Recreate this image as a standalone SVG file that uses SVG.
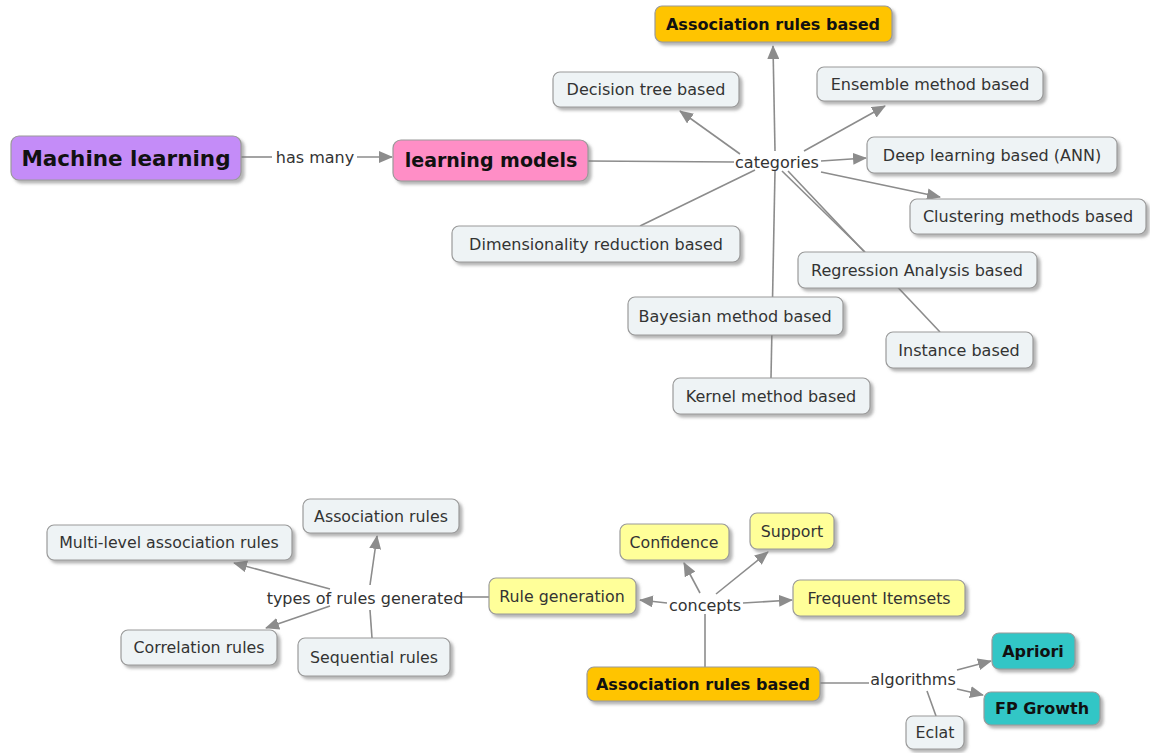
<svg xmlns="http://www.w3.org/2000/svg" width="1150" height="753" viewBox="0 0 1150 753">
  <style>
    .node rect { stroke: #9a9a9a; stroke-width: 1.2; filter: url(#shadow); }
    .plain rect { fill: #eef3f5; }
    .yellow rect { fill: #ffff99; }
    .orange rect { fill: #ffc400; }
    .teal rect { fill: #33c6c6; }
    .node text { font-family: "DejaVu Sans", Verdana, sans-serif; fill: #333; text-anchor: middle; dominant-baseline: central; }
    .top text { font-size: 16px; }
    .bot text { font-size: 15.8px; }
    .bold text { font-weight: bold; fill: #111; font-size: 16px; }
    .lbl { font-family: "DejaVu Sans", Verdana, sans-serif; font-size: 16px; fill: #333; text-anchor: middle; dominant-baseline: central; }
    #connectors line { stroke: #8c8c8c; stroke-width: 1.6; fill: none; }
    #connectors line.arr { marker-end: url(#arrow); }
  </style>
  <defs>
    <filter id="shadow" x="-10%" y="-20%" width="130%" height="160%">
      <feDropShadow dx="3" dy="3" stdDeviation="1.5" flood-color="#777" flood-opacity="0.55"/>
    </filter>
    <marker id="arrow" markerUnits="userSpaceOnUse" markerWidth="14" markerHeight="12" refX="13" refY="6" orient="auto">
      <path d="M0,0 L14,6 L0,12 Z" fill="#8c8c8c"/>
    </marker>
  </defs>

  <rect width="1150" height="753" fill="#ffffff"/>

  <g id="connectors">
    <!-- upper map -->
    <line x1="241" y1="157" x2="272" y2="157"/>
    <line class="arr" x1="357" y1="157" x2="392" y2="157"/>
    <line x1="588" y1="161" x2="734" y2="162"/>
    <line class="arr" x1="775" y1="151" x2="773" y2="46"/>
    <line class="arr" x1="740" y1="154" x2="680" y2="111"/>
    <line class="arr" x1="804" y1="151" x2="885" y2="106"/>
    <line class="arr" x1="821" y1="161" x2="866" y2="158"/>
    <line class="arr" x1="821" y1="172" x2="940" y2="197"/>
    <line x1="755" y1="170" x2="640" y2="226"/>
    <line x1="775" y1="171" x2="771" y2="378"/>
    <line x1="782" y1="171" x2="865" y2="252"/>
    <line x1="788" y1="171" x2="940" y2="332"/>

    <!-- lower map -->
    <line x1="462" y1="597" x2="489" y2="597"/>
    <line class="arr" x1="370" y1="585" x2="377" y2="536"/>
    <line class="arr" x1="330" y1="589" x2="234" y2="563"/>
    <line class="arr" x1="330" y1="606" x2="266" y2="628"/>
    <line x1="370" y1="610" x2="372" y2="638"/>
    <line class="arr" x1="667" y1="603" x2="640" y2="600"/>
    <line class="arr" x1="700" y1="593" x2="684" y2="563"/>
    <line class="arr" x1="716" y1="594" x2="768" y2="552"/>
    <line class="arr" x1="743" y1="603" x2="792" y2="600"/>
    <line x1="705" y1="614" x2="705" y2="667"/>
    <line x1="820" y1="683" x2="869" y2="683"/>
    <line class="arr" x1="957" y1="670" x2="991" y2="661"/>
    <line class="arr" x1="957" y1="689" x2="983" y2="695"/>
    <line x1="927" y1="691" x2="936" y2="716"/>
  </g>

  <!-- link phrases -->
  <g id="labels">
    <text class="lbl" x="315" y="157">has many</text>
    <text class="lbl" x="777" y="162">categories</text>
    <text class="lbl" x="365" y="598">types of rules generated</text>
    <text class="lbl" x="705" y="605">concepts</text>
    <text class="lbl" x="913" y="679">algorithms</text>
  </g>

  <!-- upper map nodes -->
  <g id="machine-learning" class="node bold">
    <rect x="11" y="136" width="230" height="44" rx="8" fill="#c48cf8"/>
    <text x="126" y="158" style="font-size:21.5px">Machine learning</text>
  </g>
  <g id="learning-models" class="node bold">
    <rect x="393" y="140" width="195" height="41" rx="8" fill="#ff8ec6"/>
    <text x="491" y="160" style="font-size:19px">learning models</text>
  </g>
  <g id="assoc-top" class="node orange bold">
    <rect x="655" y="6" width="237" height="36" rx="7"/>
    <text x="773" y="24">Association rules based</text>
  </g>
  <g id="decision-tree" class="node plain top">
    <rect x="553" y="72" width="186" height="35" rx="7"/>
    <text x="646" y="89">Decision tree based</text>
  </g>
  <g id="ensemble" class="node plain top">
    <rect x="817" y="67" width="226" height="34" rx="7"/>
    <text x="930" y="84">Ensemble method based</text>
  </g>
  <g id="deep-learning" class="node plain top">
    <rect x="867" y="137" width="250" height="36" rx="7"/>
    <text x="992" y="155">Deep learning based (ANN)</text>
  </g>
  <g id="clustering" class="node plain top">
    <rect x="910" y="199" width="236" height="35" rx="7"/>
    <text x="1028" y="216">Clustering methods based</text>
  </g>
  <g id="dimensionality" class="node plain top">
    <rect x="452" y="226" width="288" height="36" rx="7"/>
    <text x="596" y="244">Dimensionality reduction based</text>
  </g>
  <g id="regression" class="node plain top">
    <rect x="798" y="252" width="239" height="36" rx="7"/>
    <text x="917" y="270">Regression Analysis based</text>
  </g>
  <g id="bayesian" class="node plain top">
    <rect x="628" y="297" width="215" height="38" rx="7"/>
    <text x="735" y="316">Bayesian method based</text>
  </g>
  <g id="instance" class="node plain top">
    <rect x="886" y="332" width="147" height="36" rx="7"/>
    <text x="959" y="350">Instance based</text>
  </g>
  <g id="kernel" class="node plain top">
    <rect x="673" y="378" width="197" height="36" rx="7"/>
    <text x="771" y="396">Kernel method based</text>
  </g>

  <!-- lower map nodes -->
  <g id="association-rules" class="node plain bot">
    <rect x="303" y="499" width="156" height="34" rx="7"/>
    <text x="381" y="516">Association rules</text>
  </g>
  <g id="multi-level" class="node plain bot">
    <rect x="47" y="525" width="245" height="35" rx="7"/>
    <text x="169" y="542">Multi-level association rules</text>
  </g>
  <g id="correlation" class="node plain bot">
    <rect x="121" y="630" width="156" height="35" rx="7"/>
    <text x="199" y="647">Correlation rules</text>
  </g>
  <g id="sequential" class="node plain bot">
    <rect x="298" y="638" width="152" height="38" rx="7"/>
    <text x="374" y="657">Sequential rules</text>
  </g>
  <g id="rule-generation" class="node yellow bot">
    <rect x="489" y="578" width="147" height="36" rx="7"/>
    <text x="562" y="596">Rule generation</text>
  </g>
  <g id="confidence" class="node yellow bot">
    <rect x="620" y="524" width="109" height="36" rx="7"/>
    <text x="674" y="542">Confidence</text>
  </g>
  <g id="support" class="node yellow bot">
    <rect x="750" y="513" width="84" height="36" rx="7"/>
    <text x="792" y="531">Support</text>
  </g>
  <g id="frequent-itemsets" class="node yellow bot">
    <rect x="793" y="580" width="172" height="36" rx="7"/>
    <text x="879" y="598">Frequent Itemsets</text>
  </g>
  <g id="assoc-bottom" class="node orange bold">
    <rect x="587" y="667" width="233" height="34" rx="7"/>
    <text x="703" y="684">Association rules based</text>
  </g>
  <g id="apriori" class="node teal bold">
    <rect x="992" y="633" width="83" height="36" rx="7"/>
    <text x="1033" y="651">Apriori</text>
  </g>
  <g id="fp-growth" class="node teal bold">
    <rect x="984" y="692" width="116" height="33" rx="7"/>
    <text x="1042" y="708">FP Growth</text>
  </g>
  <g id="eclat" class="node plain bot">
    <rect x="906" y="716" width="58" height="33" rx="7"/>
    <text x="935" y="732">Eclat</text>
  </g>
</svg>
